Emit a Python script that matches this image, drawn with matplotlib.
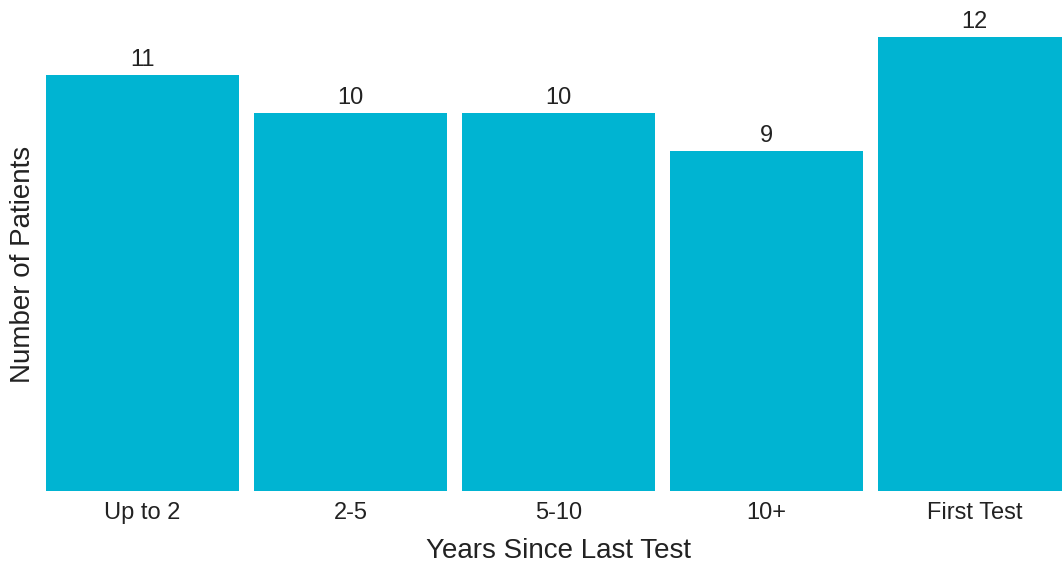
import matplotlib.pyplot as plt

plt.rcParams["font.family"] = ["Liberation Sans", "DejaVu Sans"]

categories = ["Up to 2", "2-5", "5-10", "10+", "First Test"]
patients = [11, 10, 10, 9, 12]

fig = plt.figure(figsize=(10.62, 5.64), dpi=100)
ax = fig.add_axes([38.5 / 1062, 1 - 491 / 564, 1040 / 1062, (491 - 37.4) / 564])

x = range(len(categories))
bars = ax.bar(x, patients, width=0.928, color="#00B4D2")
for b, v in zip(bars, patients):
    ax.annotate(str(v), (b.get_x() + b.get_width() / 2, v), xytext=(0, 3),
                textcoords="offset points", ha="center", va="bottom",
                fontsize=17, color="#222222", annotation_clip=False)

ax.set_xlim(-0.5, 4.5)
ax.set_ylim(0, 12)
ax.set_xticks(list(x))
ax.set_xticklabels(categories, fontsize=17, color="#222222")
ax.set_yticks([])
ax.tick_params(axis="x", length=0, pad=8)
for s in ax.spines.values():
    s.set_visible(False)

ax.set_xlabel("Years Since Last Test", fontsize=20, color="#222222", labelpad=10)
ax.set_ylabel("Number of Patients", fontsize=20, color="#222222")
ax.yaxis.set_label_coords(-2 / 1040, 0.5)

fig.savefig("out.png", dpi=100)
